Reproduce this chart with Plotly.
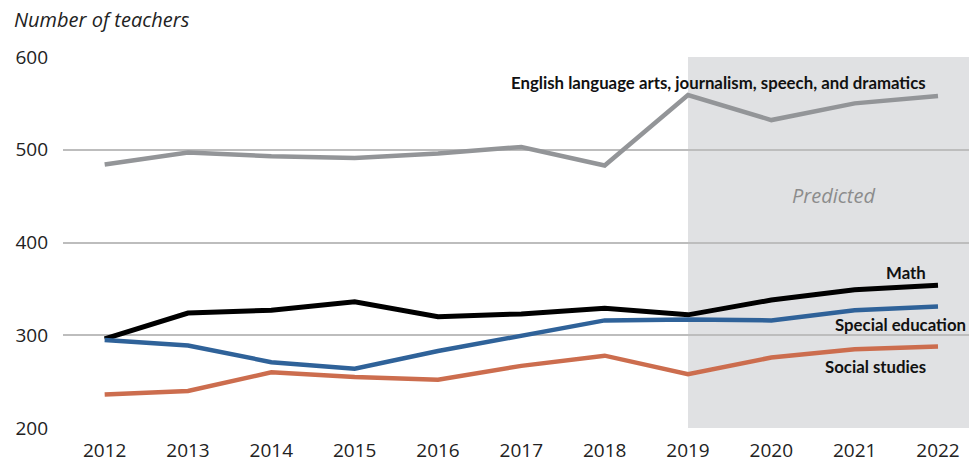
import plotly.graph_objects as go

# School years
years = [2012, 2013, 2014, 2015, 2016, 2017, 2018, 2019, 2020, 2021, 2022]

# Number of teachers by subject area (2019 onward are projections)
english = [484, 497, 493, 491, 496, 503, 483, 559, 532, 550, 558]
math = [296, 324, 327, 336, 320, 323, 329, 322, 338, 349, 354]
special_ed = [295, 289, 271, 264, 283, 299, 316, 317, 316, 327, 331]
social_studies = [236, 240, 260, 255, 252, 267, 278, 258, 276, 285, 288]

series_names = [
    "English language arts, journalism, speech, and dramatics",
    "Math",
    "Special education",
    "Social studies",
]
series_values = [english, math, special_ed, social_studies]
series_colors = ["#939598", "#000000", "#2F6299", "#CC6D4E"]
series_widths = [4.5, 5, 4.5, 4.5]

y_ticks = [200, 300, 400, 500, 600]
predicted_start = 2019

fig = go.Figure()

for name, vals, color, width in zip(series_names, series_values, series_colors, series_widths):
    fig.add_trace(go.Scatter(
        x=years, y=vals, mode="lines", name=name,
        line=dict(color=color, width=width),
        hoverinfo="x+y+name",
    ))

# Shaded band for predicted years
fig.add_shape(
    type="rect", xref="x", yref="paper",
    x0=predicted_start, x1=2030, y0=0, y1=1,
    fillcolor="#E0E1E3", line=dict(width=0), layer="below",
)

label_font = dict(family="Lato", size=16.8, color="#111111")
labels = [
    (series_names[0], 2021.88, 572),
    (series_names[1], 2021.88, 368),
    (series_names[2], 2022.36, 311.5),
    (series_names[3], 2021.88, 266.5),
]
for text, x, y in labels:
    fig.add_annotation(
        x=x, y=y, xref="x", yref="y", text=f"<b>{text}</b>",
        showarrow=False, xanchor="right", yanchor="middle", font=label_font,
    )

fig.add_annotation(
    x=2020.74, y=450.5, xref="x", yref="y", text="<i>Predicted</i>",
    showarrow=False, xanchor="center", yanchor="middle",
    font=dict(family="Open Sans", size=20, color="#8C8C8C"),
)

# Axis title placed in the top-left corner, outside the plot area
fig.add_annotation(
    xref="paper", yref="paper",
    x=(12 - 63) / 906, y=1 + (57 - 20) / 371,
    text="<i>Number of teachers</i>",
    showarrow=False, xanchor="left", yanchor="middle",
    font=dict(family="Open Sans", size=20, color="#222222"),
)

fig.update_layout(
    width=969, height=462,
    margin=dict(l=63, r=0, t=57, b=34),
    paper_bgcolor="white", plot_bgcolor="white",
    showlegend=False,
    font=dict(family="Open Sans", size=19, color="#222222"),
    xaxis=dict(
        range=[2011.5, 2022.372],
        tickmode="array", tickvals=years, ticktext=[str(y) for y in years],
        showgrid=False, zeroline=False, showline=False,
        ticks="", ticklabelstandoff=9,
        tickfont=dict(size=19, color="#222222"),
    ),
    yaxis=dict(
        range=[200, 600],
        tickmode="array", tickvals=y_ticks,
        showgrid=True, gridcolor="#BDBDBD", gridwidth=1.5,
        zeroline=False, showline=False, ticks="",
        ticklabelstandoff=14,
        tickfont=dict(size=19, color="#222222"),
    ),
)

fig.write_html("out.html")
